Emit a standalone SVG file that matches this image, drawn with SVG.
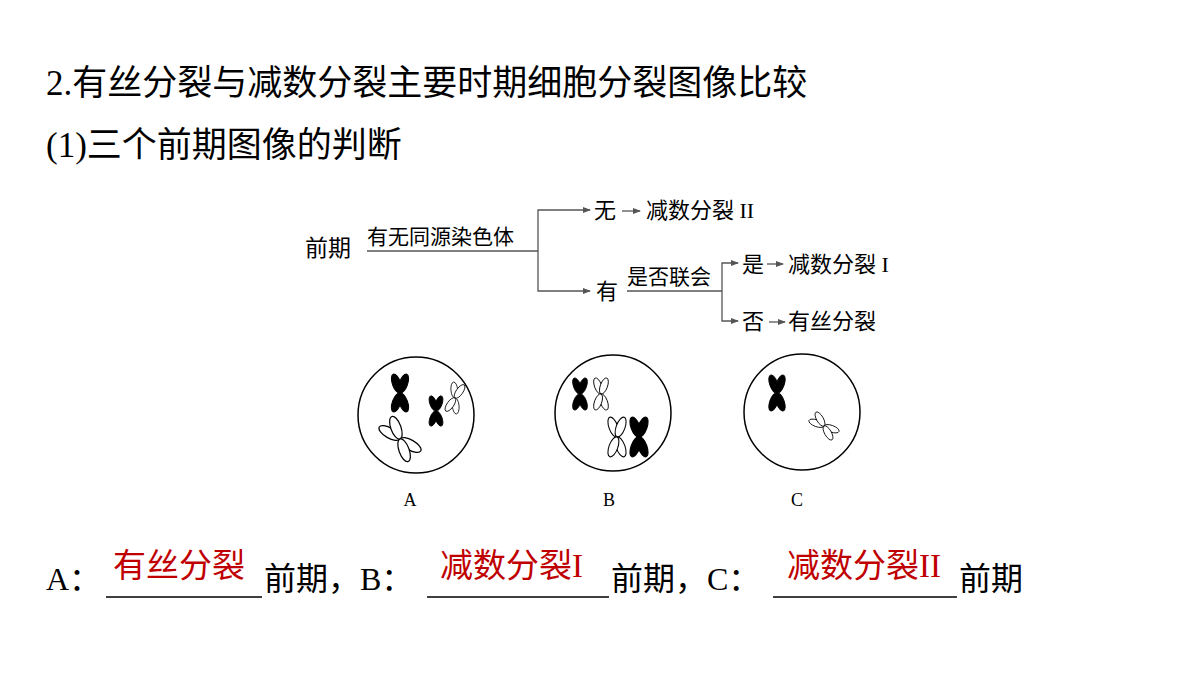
<svg xmlns="http://www.w3.org/2000/svg" width="1200" height="675" viewBox="0 0 1200 675">
<style>
.t{font-family:"Liberation Serif","Noto Sans CJK SC",serif;fill:#000}
.ln{stroke:#555;stroke-width:1.3;fill:none}
.cell{fill:#fff;stroke:#000;stroke-width:1.5}
.b{fill:#000;stroke:#000;stroke-width:1}
.o{fill:#fff;stroke:#000;stroke-width:1}
.red{fill:#c00000}
</style>
<defs>
<marker id="ar" markerWidth="8" markerHeight="8" refX="7" refY="4" orient="auto" markerUnits="userSpaceOnUse">
<path d="M0,1 L8,4 L0,7 Z" fill="#555"/>
</marker>
<g id="x">
<ellipse cx="0" cy="-10" rx="4.2" ry="10" transform="rotate(-20)"/>
<ellipse cx="0" cy="-10" rx="4.2" ry="10" transform="rotate(20)"/>
<ellipse cx="0" cy="10" rx="4.2" ry="10" transform="rotate(-20)"/>
<ellipse cx="0" cy="10" rx="4.2" ry="10" transform="rotate(20)"/>
</g>
</defs>
<rect width="1200" height="675" fill="#fff"/>
<text class="t" x="46" y="95" font-size="35">2.有丝分裂与减数分裂主要时期细胞分裂图像比较</text>
<text class="t" x="46" y="157" font-size="35">(1)三个前期图像的判断</text>
<g id="connectors">
<path class="ln" d="M367,251 H538"/>
<path class="ln" d="M538,251 V210 H590" marker-end="url(#ar)"/>
<path class="ln" d="M538,251 V291 H590" marker-end="url(#ar)"/>
<path class="ln" d="M622,211 H640" marker-end="url(#ar)"/>
<path class="ln" d="M627,291 H722"/>
<path class="ln" d="M722,291 V263 H738" marker-end="url(#ar)"/>
<path class="ln" d="M722,291 V321 H738" marker-end="url(#ar)"/>
<path class="ln" d="M767,264 H783" marker-end="url(#ar)"/>
<path class="ln" d="M769,322 H785" marker-end="url(#ar)"/>
</g>
<g id="flow">
<text class="t" x="305" y="256" font-size="23">前期</text>
<text class="t" x="367" y="244" font-size="21">有无同源染色体</text>
<text class="t" x="594" y="218" font-size="22">无</text>
<text class="t" x="646" y="218" font-size="22">减数分裂 II</text>
<text class="t" x="596" y="299" font-size="22">有</text>
<text class="t" x="627" y="284" font-size="21">是否联会</text>
<text class="t" x="742" y="272" font-size="22">是</text>
<text class="t" x="788" y="272" font-size="22">减数分裂 I</text>
<text class="t" x="742" y="329" font-size="22">否</text>
<text class="t" x="788" y="329" font-size="22">有丝分裂</text>
</g>
<g id="cellA">
<circle class="cell" cx="416" cy="415" r="58"/>
<use href="#x" class="b" transform="translate(400,393)"/>
<use href="#x" class="b" transform="translate(436,411) scale(0.8)"/>
<use href="#x" class="o" transform="translate(455,398) scale(0.8) rotate(15)"/>
<use href="#x" class="o" transform="translate(400,439) scale(1.2) rotate(-40)"/>
<text class="t" x="410" y="506" font-size="18" text-anchor="middle">A</text>
</g>
<g id="cellB">
<circle class="cell" cx="613" cy="413" r="58"/>
<use href="#x" class="b" transform="translate(580,394) scale(0.85)"/>
<use href="#x" class="o" transform="translate(601,394) scale(0.85)"/>
<use href="#x" class="o" transform="translate(617,437) scale(1.05)"/>
<use href="#x" class="b" transform="translate(639,437) scale(1.05)"/>
<text class="t" x="609" y="506" font-size="18" text-anchor="middle">B</text>
</g>
<g id="cellC">
<circle class="cell" cx="802" cy="412" r="58"/>
<use href="#x" class="b" transform="translate(777,393) scale(0.95)"/>
<use href="#x" class="o" transform="translate(824,426) scale(0.8) rotate(-50)"/>
<text class="t" x="797" y="506" font-size="18" text-anchor="middle">C</text>
</g>
<g id="answers">
<text class="t" x="46" y="590" font-size="32">A：</text>
<path d="M106,597 H262 M427,597 H609 M773,597 H957" stroke="#000" stroke-width="1.3"/>
<text class="t red" x="113" y="577" font-size="33">有丝分裂</text>
<text class="t" x="264" y="590" font-size="32">前期，B：</text>
<text class="t red" x="440" y="577" font-size="33">减数分裂I</text>
<text class="t" x="611" y="590" font-size="32">前期，C：</text>
<text class="t red" x="787" y="577" font-size="33">减数分裂II</text>
<text class="t" x="959" y="590" font-size="32">前期</text>
</g>
</svg>
